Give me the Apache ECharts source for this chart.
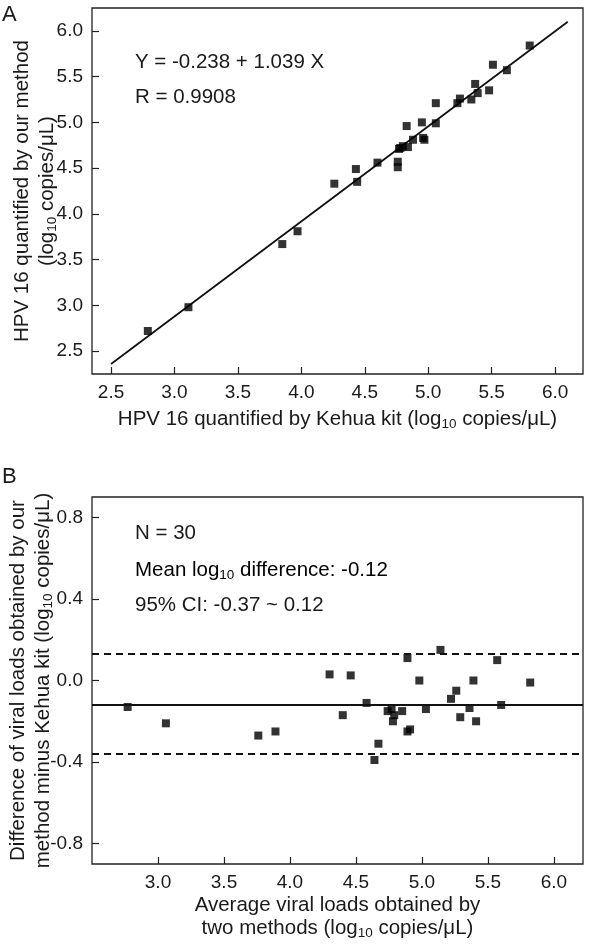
<!DOCTYPE html>
<html>
<head>
<meta charset="utf-8">
<script src="https://cdn.jsdelivr.net/npm/echarts@6/dist/echarts.min.js"></script>
<style>
html,body{margin:0;padding:0;background:#fff;}
#c{width:591px;height:944px;}
</style>
</head>
<body>
<div id="c"></div>
<script>
// ---- Panel A data: Kehua kit (x) vs our method (y), log10 copies/uL ----
var kehuaA = [2.79, 3.11, 3.85, 3.97, 4.26, 4.44, 4.43, 4.60, 4.76, 4.76, 4.77, 4.78, 4.80, 4.84, 4.88, 4.83, 4.96, 4.97, 4.95, 5.06, 5.06, 5.23, 5.25, 5.34, 5.37, 5.39, 5.48, 5.51, 5.62, 5.80];
var oursA  = [2.72, 2.98, 3.67, 3.81, 4.33, 4.35, 4.49, 4.56, 4.57, 4.51, 4.71, 4.72, 4.74, 4.73, 4.81, 4.96, 4.83, 4.81, 5.00, 4.99, 5.21, 5.21, 5.26, 5.25, 5.42, 5.32, 5.35, 5.63, 5.57, 5.84];
var fitLineX = [2.5, 6.1];
var fitLineY = [2.36, 6.10];
var ticksA = [2.5, 3.0, 3.5, 4.0, 4.5, 5.0, 5.5, 6.0];

// ---- Panel B data: Bland-Altman ----
var avgB  = [2.77, 3.06, 3.76, 3.89, 4.30, 4.46, 4.40, 4.58, 4.67, 4.64, 4.74, 4.77, 4.78, 4.79, 4.85, 4.89, 4.91, 4.89, 4.98, 5.03, 5.14, 5.22, 5.26, 5.29, 5.36, 5.39, 5.41, 5.57, 5.60, 5.82];
var diffB = [-0.13, -0.21, -0.27, -0.25, 0.03, 0.025, -0.17, -0.11, -0.31, -0.39, -0.15, -0.14, -0.20, -0.17, -0.15, -0.25, -0.24, 0.11, 0.0, -0.14, 0.15, -0.09, -0.05, -0.18, -0.135, 0.0, -0.20, 0.10, -0.12, -0.01];
var meanDiff = -0.12;
var limitsB = [0.125, -0.36];
var xTicksB = [3.0, 3.5, 4.0, 4.5, 5.0, 5.5, 6.0];
var yTicksB = [-0.8, -0.4, 0.0, 0.4, 0.8];

var FONT = 'Liberation Sans, Arial, Helvetica, sans-serif';
var TXT = '#1a1a1a';
var TS = 20.5;
function makeRich(lh) {
  return {
    n: {fontSize: TS, fontFamily: FONT, color: TXT, lineHeight: lh, verticalAlign: 'middle'},
    s: {fontSize: 13.5, fontFamily: FONT, color: TXT, lineHeight: lh, padding: [11, 0, 0, 0], verticalAlign: 'middle'}
  };
}
var rich = makeRich(27);

function zip(a, b) { return a.map(function (v, i) { return [v, b[i]]; }); }
function fmt(v) { return v.toFixed(1); }

function valueAxis(gridIndex, min, max, ticks, extra) {
  var ax = {
    type: 'value', gridIndex: gridIndex, min: min, max: max,
    nameMoveOverlap: false,
    splitLine: {show: false},
    axisLine: {show: false, onZero: false},
    axisTick: {show: true, inside: true, length: 7, customValues: ticks, lineStyle: {color: '#222', width: 1.2}},
    axisLabel: {customValues: ticks, formatter: fmt, fontSize: 19, fontFamily: FONT, color: TXT, margin: 9}
  };
  for (var k in extra) ax[k] = extra[k];
  return ax;
}

var chart = echarts.init(document.getElementById('c'), null, {renderer: 'canvas'});
chart.setOption({
  backgroundColor: '#fff',
  animation: false,
  grid: [
    {left: 92, top: 8, width: 491, height: 366, show: true, containLabel: false, outerBoundsMode: 'none', borderColor: '#222', borderWidth: 1.3, backgroundColor: 'transparent'},
    {left: 92, top: 497, width: 491, height: 367, show: true, containLabel: false, outerBoundsMode: 'none', borderColor: '#222', borderWidth: 1.3, backgroundColor: 'transparent'}
  ],
  xAxis: [
    valueAxis(0, 2.35, 6.22, ticksA, {
      name: '{n|HPV 16 quantified by Kehua kit (log}{s|10}{n| copies/μL)}',
      nameLocation: 'middle', nameGap: 31.5,
      nameTextStyle: {rich: rich}
    }),
    valueAxis(1, 2.5, 6.22, xTicksB, {
      name: '{n|Average viral loads obtained by}\n{n|two methods (log}{s|10}{n| copies/μL)}',
      nameLocation: 'middle', nameGap: 29.5,
      nameTextStyle: {rich: makeRich(23)}
    })
  ],
  yAxis: [
    valueAxis(0, 2.25, 6.25, ticksA, {
      name: '{n|HPV 16 quantified by our method}\n{n|(log}{s|10}{n| copies/μL)}',
      nameLocation: 'middle', nameGap: 32.5, nameRotate: 90,
      nameTextStyle: {rich: makeRich(25)}
    }),
    valueAxis(1, -0.9, 0.9, yTicksB, {
      name: '{n|Difference of viral loads obtained by our}\n{n|method minus Kehua kit (log}{s|10}{n| copies/μL)}',
      nameLocation: 'middle', nameGap: 36.5, nameRotate: 90,
      nameTextStyle: {rich: makeRich(25)}
    })
  ],
  series: [
    {
      type: 'line', xAxisIndex: 0, yAxisIndex: 0, data: zip(fitLineX, fitLineY),
      symbol: 'none', lineStyle: {color: '#111', width: 1.8}, z: 2
    },
    {
      type: 'scatter', xAxisIndex: 0, yAxisIndex: 0, data: zip(kehuaA, oursA),
      symbol: 'rect', symbolSize: 8, itemStyle: {color: '#000'}, z: 3
    },
    {
      type: 'scatter', xAxisIndex: 1, yAxisIndex: 1, data: zip(avgB, diffB),
      symbol: 'rect', symbolSize: 8, itemStyle: {color: '#000'}, z: 3,
      markLine: {
        silent: true, symbol: ['none', 'none'], label: {show: false},
        data: [
          {yAxis: meanDiff, lineStyle: {type: 'solid', color: '#111', width: 1.8}},
          {yAxis: limitsB[0], lineStyle: {type: [7, 5], color: '#111', width: 1.8}},
          {yAxis: limitsB[1], lineStyle: {type: [7, 5], color: '#111', width: 1.8}}
        ]
      }
    }
  ],
  graphic: [
    {type: 'text', x: 2, y: 15, style: {text: 'A', font: '22px ' + FONT, fill: TXT, verticalAlign: 'middle'}},
    {type: 'text', x: 2, y: 477, style: {text: 'B', font: '22px ' + FONT, fill: TXT, verticalAlign: 'middle'}},
    {type: 'text', x: 135, y: 62, style: {text: 'Y = -0.238 + 1.039 X', font: TS + 'px ' + FONT, fill: TXT, verticalAlign: 'middle'}},
    {type: 'text', x: 135, y: 97, style: {text: 'R = 0.9908', font: TS + 'px ' + FONT, fill: TXT, verticalAlign: 'middle'}},
    {type: 'text', x: 135, y: 533, style: {text: 'N = 30', font: TS + 'px ' + FONT, fill: TXT, verticalAlign: 'middle'}},
    {type: 'text', x: 135, y: 570, style: {text: '{n|Mean log}{s|10}{n| difference: -0.12}', rich: rich, verticalAlign: 'middle'}},
    {type: 'text', x: 135, y: 605, style: {text: '95% CI: -0.37 ~ 0.12', font: TS + 'px ' + FONT, fill: TXT, verticalAlign: 'middle'}}
  ]
});
</script>
</body>
</html>
